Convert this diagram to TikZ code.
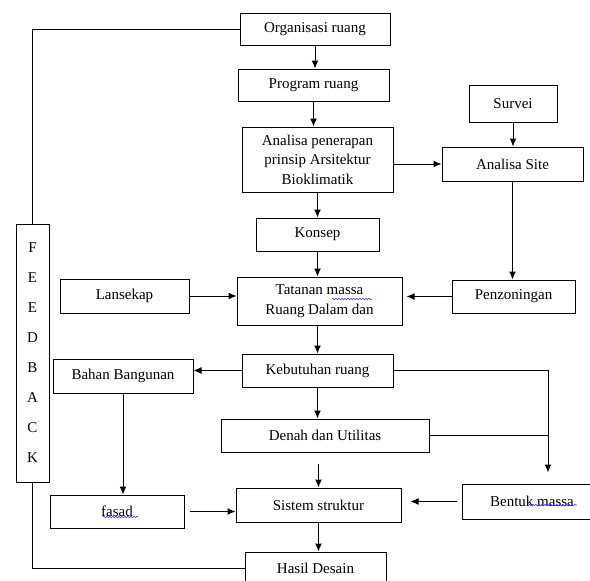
\documentclass[tikz,border=0pt]{standalone}
\usepackage{fontspec}
\setmainfont{Liberation Serif}
\usetikzlibrary{arrows.meta,decorations.pathmorphing}

\begin{document}
\begin{tikzpicture}[x=1pt, y=-1pt, font=\fontsize{15}{19.5}\selectfont, >={Latex[length=8pt,width=7pt]}]
    \tikzstyle{box_style} = [draw=black, line width=1pt, inner sep=0pt, align=center]
    \tikzstyle{edge_style} = [draw=black, line width=1pt]
    \tikzstyle{arrow_style} = [edge_style, ->]
    \tikzstyle{spell_style} = [draw=blue!75, line width=0.6pt, decorate, decoration={snake, segment length=3pt, amplitude=0.8pt}]
    \useasboundingbox (0,0) rectangle (590,581);

    % main column
    \node[box_style, minimum width=150, minimum height=32] (org) at (315,29) {Organisasi ruang};
    \node[box_style, minimum width=151, minimum height=32] (prog) at (313.5,85) {Program ruang};
    \node[box_style, minimum width=151, minimum height=65] (anal) at (317.5,159.5) {Analisa penerapan\\prinsip Arsitektur\\Bioklimatik};
    \node[box_style, minimum width=123, minimum height=33] (konsep) at (317.5,234.5) {Konsep};
    \node[box_style, minimum width=165, minimum height=48] (tatanan) at (319.5,301) {Tatanan massa\\Ruang Dalam dan};
    \node[box_style, minimum width=151, minimum height=33] (keb) at (317.5,370.5) {Kebutuhan ruang};
    \node[box_style, minimum width=208, minimum height=33] (denah) at (325,435.5) {Denah dan Utilitas};
    \node[box_style, minimum width=165, minimum height=34] (sistem) at (318.5,505) {Sistem struktur};
    \node[box_style, minimum width=141, minimum height=32] (hasil) at (315.5,568) {Hasil Desain};

    % right side
    \node[box_style, minimum width=88, minimum height=37] (survei) at (513,103.5) {Survei};
    \node[box_style, minimum width=141, minimum height=34] (site) at (512.5,164) {Analisa Site};
    \node[box_style, minimum width=123, minimum height=33] (penz) at (513.5,296.5) {Penzoningan};
    \node[box_style, minimum width=140, minimum height=35] (bentuk) at (532,501.5) {Bentuk massa};

    % left side
    \node[box_style, minimum width=129, minimum height=34] (lansekap) at (124.5,296) {Lansekap};
    \node[box_style, minimum width=140, minimum height=34] (bahan) at (123,376) {Bahan Bangunan};
    \node[box_style, minimum width=134, minimum height=33] (fasad) at (117,511.5) {fasad};
    \node[box_style, minimum width=33, minimum height=258, font=\fontsize{15}{30}\selectfont] (fb) at (32.5,353) {F\\E\\E\\D\\B\\A\\C\\K};

    \coordinate (turn) at (548,373);

    \draw[arrow_style] (org) -- (org |- prog.north);
    \draw[arrow_style] (prog) -- (prog |- anal.north);
    \draw[arrow_style] (anal) -- (konsep);
    \draw[arrow_style] (konsep) -- (konsep |- tatanan.north);
    \draw[arrow_style] (keb |- tatanan.south) -- (keb);
    \draw[arrow_style] (keb) -- (keb |- denah.north);
    \draw[arrow_style, shorten <=11pt] (sistem |- denah.south) -- (sistem);
    \draw[arrow_style] (sistem) -- (sistem |- hasil.north);

    \draw[arrow_style] (survei) -- (survei |- site.north);
    \draw[arrow_style] (site -| anal.east) -- (site);
    \draw[arrow_style] (site) -- (site |- penz.north);
    \draw[arrow_style, shorten >=4pt] (penz) -- (penz -| tatanan.east);
    \draw[arrow_style] (lansekap) -- (lansekap -| tatanan.west);

    \draw[arrow_style] (keb) -- (keb -| bahan.east);
    \draw[arrow_style] (bahan) -- (bahan |- fasad.north);
    \draw[arrow_style, shorten <=5pt] (fasad) -- (fasad -| sistem.west);
    \draw[arrow_style, shorten <=5pt, shorten >=9pt] (bentuk) -- (bentuk -| sistem.east);
    \draw[arrow_style, shorten >=11pt] (keb) -- (keb -| turn) -- (turn |- bentuk.north);
    \draw[edge_style] (denah) -- (denah -| turn);

    \draw[edge_style] (fb) -- (fb |- org) -- (org);
    \draw[edge_style] (fb) -- (fb |- hasil) -- (hasil);

    % spell-check marks
    \draw[spell_style] (332,299) -- (372,299);
    \draw[spell_style] (529,505) -- (577,505);
    \draw[spell_style] (103,517) -- (138,517);
\end{tikzpicture}
\end{document}
